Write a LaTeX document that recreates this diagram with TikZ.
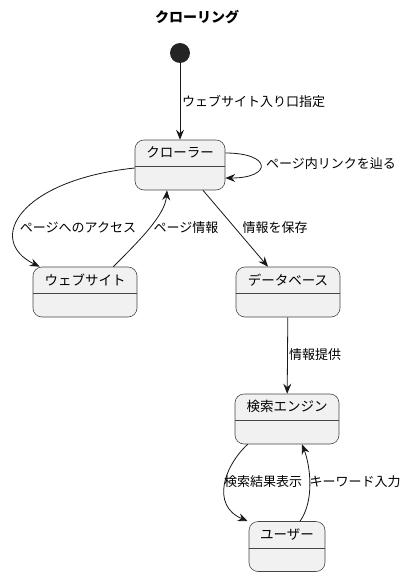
\documentclass[tikz,border=0pt]{standalone}
\usepackage{fontspec}
\setmainfont{Noto Sans CJK JP}
\usepackage{xcolor}
\usetikzlibrary{arrows.meta}
\definecolor{boxfill}{HTML}{F1F1F1}
\definecolor{linecol}{HTML}{181818}
\newcommand{\lbl}{\fontsize{13}{15}\selectfont}
\newcommand{\stn}{\fontsize{13.5}{16}\selectfont}

\begin{document}
\begin{tikzpicture}[x=1pt,y=-1pt,
    state/.style={draw=linecol!80, line width=0.6pt, fill=boxfill, rounded corners=9pt, minimum height=50pt},
    arr/.style={-{Stealth[length=10pt,width=8pt,inset=3.5pt]}, draw=linecol, line width=0.8pt},
    edgelbl/.style={font=\lbl, inner sep=0pt}]
    \useasboundingbox (0,0) rectangle (408,576);

    \node[font=\bfseries\fontsize{14}{16}\selectfont] (title) at (197,17) {クローリング};
    \node[circle, fill=linecol!95, minimum size=20pt, inner sep=0pt] (start) at (180,53) {};

    \node[state, minimum width=90pt, label={[anchor=center,yshift=-13pt,font=\stn]north:クローラー}] (crawler) at (180,165) {};
    \node[state, minimum width=104pt, label={[anchor=center,yshift=-13pt,font=\stn]north:ウェブサイト}] (website) at (85,292) {};
    \node[state, minimum width=104pt, label={[anchor=center,yshift=-13pt,font=\stn]north:データベース}] (database) at (288,292) {};
    \node[state, minimum width=104pt, label={[anchor=center,yshift=-13pt,font=\stn]north:検索エンジン}] (search) at (287,419) {};
    \node[state, minimum width=76pt, label={[anchor=center,yshift=-13pt,font=\stn]north:ユーザー}] (user) at (287,546.5) {};
    \foreach \s in {crawler,website,database,search,user}
        \draw[draw=linecol!80, line width=0.6pt] ([yshift=-1.5pt]\s.west) -- ([yshift=-1.5pt]\s.east);

    \draw[arr] (start) -- (crawler);
    \draw[arr] ([yshift=12pt]crawler.east) .. controls +(47,0) and +(47,0) .. ([yshift=-13pt]crawler.east);
    \draw[arr] ([yshift=-3pt]crawler.west) .. controls (20,180) and (-15,240) .. ([xshift=7pt]website.north west);
    \draw[arr] ([xshift=-24pt]website.north east) .. controls (140,240) and (165,215) .. ([xshift=-13pt]crawler.south);
    \draw[arr] ([xshift=23pt]crawler.south) -- ([xshift=-20pt]database.north);
    \draw[arr] (database) -- (search);
    \draw[arr] ([xshift=13pt]search.south west) .. controls (225,465) and (210,505) .. ([xshift=-1pt]user.north west);
    \draw[arr] ([xshift=13pt]user.north) .. controls (315,500) and (310,465) .. ([xshift=15pt]search.south);

    \node[edgelbl, anchor=west] (l1) at (182,101) {ウェブサイト入り口指定};
    \node[edgelbl, anchor=west] (l2) at (266,164) {ページ内リンクを辿る};
    \node[edgelbl] (l3) at (78,228) {ページへのアクセス};
    \node[edgelbl] (l4) at (186,228) {ページ情報};
    \node[edgelbl] (l5) at (275,228) {情報を保存};
    \node[edgelbl, anchor=west] (l6) at (289,355) {情報提供};
    \node[edgelbl] (l7) at (263,482) {検索結果表示};
    \node[edgelbl] (l8) at (355,482) {キーワード入力};
\end{tikzpicture}
\end{document}
